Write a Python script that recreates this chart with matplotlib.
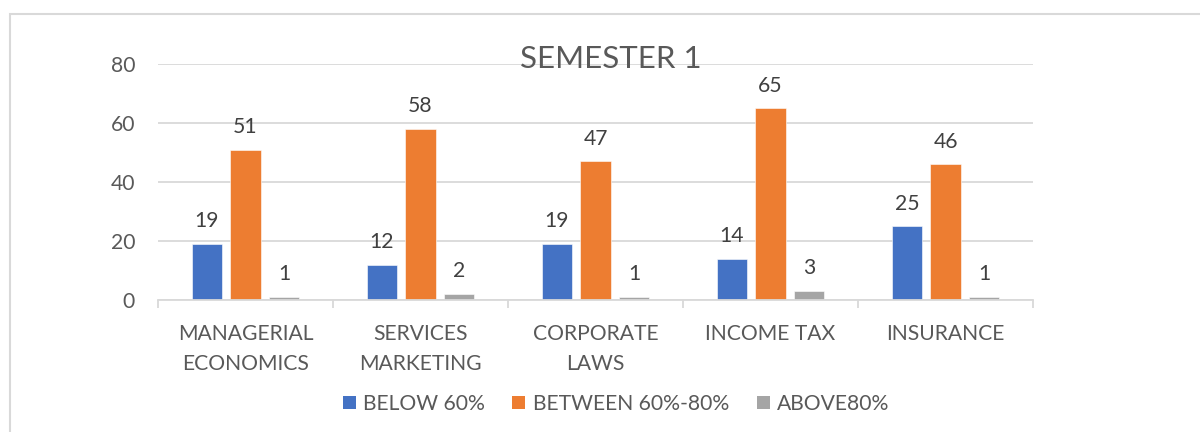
import matplotlib
matplotlib.use("Agg")
import matplotlib.pyplot as plt
import numpy as np
from matplotlib.patches import Rectangle, Patch
from matplotlib.ticker import FixedLocator

plt.rcParams['font.family'] = ['Lato', 'DejaVu Sans']

title = "SEMESTER 1"
categories = ["MANAGERIAL\nECONOMICS", "SERVICES\nMARKETING", "CORPORATE\nLAWS", "INCOME TAX", "INSURANCE"]
series_names = ["BELOW 60%", "BETWEEN 60%-80%", "ABOVE80%"]
below_60 = [19, 12, 19, 14, 25]
between_60_80 = [51, 58, 47, 65, 46]
above_80 = [1, 2, 1, 3, 1]
y_ticks = [0, 20, 40, 60, 80]

colors = ["#4472C4", "#ED7D31", "#A5A5A5"]
text_color = "#595959"
label_color = "#404040"
grid_color = "#D9D9D9"
fs = 15.2

fig = plt.figure(figsize=(12, 4.32), dpi=100)
ax = fig.add_axes([158/1200, 1-300/432, 875/1200, 236/432])

x = np.arange(len(categories))
offsets = [-0.22, 0.0, 0.22]
width = 0.175
all_series = [below_60, between_60_80, above_80]
for vals, off, c, name in zip(all_series, offsets, colors, series_names):
    bars = ax.bar(x + off, vals, width=width, color=c, label=name, zorder=3,
                  edgecolor='white', linewidth=0.4)
    for b, v in zip(bars, vals):
        ax.annotate(str(v), (b.get_x() + b.get_width()/2, v), xytext=(0, 12),
                    textcoords='offset points', ha='center', va='baseline',
                    fontsize=fs, color=label_color)

ax.set_xlim(-0.5, len(categories) - 0.5)
ax.set_ylim(0, 80)
ax.set_yticks(y_ticks)
ax.yaxis.grid(True, color=grid_color, linewidth=1.3, zorder=0)
ax.set_axisbelow(True)
for s in ['top', 'right', 'left']:
    ax.spines[s].set_visible(False)
ax.spines['bottom'].set_color(grid_color)
ax.spines['bottom'].set_linewidth(1.3)
ax.spines['bottom'].set_zorder(4)

ax.set_xticks(x)
ax.set_xticklabels(categories, fontsize=fs, color=text_color, linespacing=1.62, va='top')
ax.tick_params(axis='x', which='major', length=0, pad=17)
ax.xaxis.set_minor_locator(FixedLocator(np.arange(-0.5, len(categories), 1.0)))
ax.tick_params(axis='x', which='minor', length=6, color=grid_color, width=1.3)
ax.tick_params(axis='y', length=0, pad=16.5, labelsize=fs, labelcolor=text_color)
for lbl in ax.get_yticklabels():
    lbl.set_color(text_color)

fig.text(611/1200, 1-59/432, title, ha='center', va='center', fontsize=22.5, color=text_color)

handles = [Patch(facecolor=c) for c in colors]
fig.legend(handles, series_names, loc='center', bbox_to_anchor=(616/1200, 1-404/432), ncol=3,
           frameon=False, fontsize=fs, handlelength=0.62, handleheight=0.62,
           handletextpad=0.35, columnspacing=1.3, labelcolor=text_color)

fig.patches.append(Rectangle((9.5/1200, -0.2), 1.2, 1 - 13.5/432 + 0.2, transform=fig.transFigure,
                             fill=False, edgecolor=grid_color, linewidth=1.5))

fig.savefig("out.png", dpi=100, facecolor='white')
